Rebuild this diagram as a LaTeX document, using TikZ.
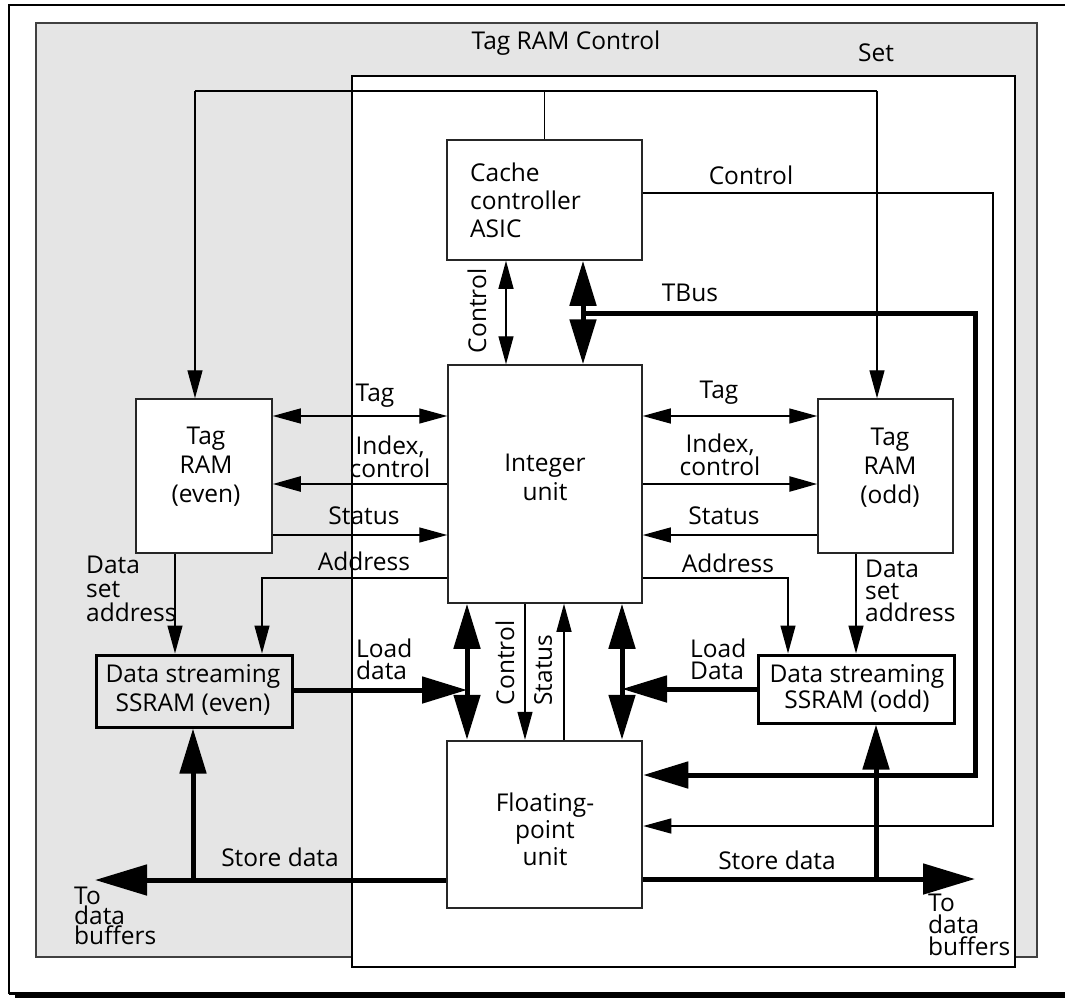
\documentclass[tikz,border=0pt]{standalone}
\usepackage{fontspec}
\setmainfont{Open Sans}
\usetikzlibrary{arrows.meta}
\tikzset{
  tA/.tip={Triangle[length=28pt,width=15pt]},
  tB/.tip={Triangle[length=45pt,width=26pt]},
  tC/.tip={Triangle[length=52pt,width=30pt]},
  lbl/.style={font=\fontsize{24.5}{27}\selectfont, inner sep=0pt, align=center},
  blk/.style={draw=black!85, line width=1.5pt, fill=white, inner sep=0pt},
  thinw/.style={line width=1.3pt},
  medw/.style={line width=2.6pt},
  thickw/.style={line width=5pt},
}
\begin{document}
\begin{tikzpicture}[x=1pt,y=-1pt]
\useasboundingbox (0,0) rectangle (1065,998);
% outer frame
\draw[line width=2.2pt] (9,994) -- (9,5) -- (1070,5);
\draw[line width=3pt] (9,993) -- (1070,993);
\draw[line width=4pt] (15,996) -- (1070,996);
% Tag RAM Control region
\draw[draw=black!75, line width=1.5pt, fill=black!10] (36,23) rectangle (1037,957);
% Set region
\draw[line width=1.2pt, fill=white] (352,76) rectangle (1015,967);
\node[lbl] (trc) at (566,43) {Tag RAM Control};
\node[lbl] (setl) at (876,53) {Set};

% top wire
\coordinate (wl) at (195,91);
\coordinate (wr) at (877,91);
\draw[thinw] (wl) -- (wr);

% blocks
\node[blk, minimum width=195pt, minimum height=120pt] (cache) at (544.5,200) {};
\node[lbl, anchor=west, align=left, font=\fontsize{24.5}{28}\selectfont] (cachet) at (470,200) {Cache\\controller\\ASIC};
\node[blk, minimum width=194pt, minimum height=238pt] (iu) at (545,484) {};
\node[lbl, font=\fontsize{24.5}{29}\selectfont] (iut) at (545,477) {Integer\\unit};
\node[blk, line width=2.5pt, minimum width=195pt, minimum height=167pt] (fpu) at (544.5,824.5) {};
\node[lbl, font=\fontsize{24.5}{27}\selectfont] (fput) at (545,829) {Floating-\\point\\unit};
\node[blk, minimum width=136pt, minimum height=154pt] (tre) at (204,476) {};
\node[lbl, font=\fontsize{24.5}{29}\selectfont] (tret) at (206,467) {Tag\\RAM\\(even)};
\node[blk, minimum width=135pt, minimum height=154pt] (tro) at (885.5,476) {};
\node[lbl, font=\fontsize{24.5}{29}\selectfont] (trot) at (890,468) {Tag\\RAM\\(odd)};
\node[draw, line width=3pt, inner sep=0pt, minimum width=196pt, minimum height=72pt] (sse) at (194,691) {};
\node[lbl, font=\fontsize{24.5}{29}\selectfont] (sset) at (193,690) {Data streaming\\SSRAM (even)};
\node[draw, line width=3pt, fill=white, inner sep=0pt, minimum width=196pt, minimum height=68pt] (sso) at (856,689) {};
\node[lbl, font=\fontsize{24.5}{26}\selectfont] (ssot) at (857,688) {Data streaming\\SSRAM (odd)};

% top wire connections
\draw[thinw] (cache.north) -- (cache.north |- wl);
\draw[thinw, -tA] (wl) -- (wl |- tre.north);
\draw[thinw, -tA] (wr) -- (wr |- tro.north);

% cache control to FPU
\draw[thinw, -tA] (cache.east |- 0,193) -- (993,193) -- (993,826) -- (fpu.east |- 0,826);
\node[lbl] (ctl1) at (751,175) {Control};

% cache <-> integer
\draw[thinw, tA-tA] (506,0 |- cache.south) -- (506,0 |- iu.north);
\node[lbl, rotate=90] (ctl2) at (477,311) {Control};
\draw[thickw, tB-tB] (583,0 |- cache.south) -- (583,0 |- iu.north);
\draw[thickw, -tB] (583,313) -- (975,313) -- (975,775) -- (fpu.east |- 0,775);
\node[lbl] (tbus) at (690,293) {TBus};

% left tag RAM connections
\draw[thinw, tA-tA] (tre.east |- 0,416) -- (iu.west |- 0,416);
\draw[medw, -tA] (iu.west |- 0,484) -- (tre.east |- 0,484);
\draw[thinw, -tA] (tre.east |- 0,535) -- (iu.west |- 0,535);
\draw[thinw, -tA] (iu.west |- 0,578) -- (262,578) -- (262,0 |- sse.north);
\draw[thinw, -tA] (175,0 |- tre.south) -- (175,0 |- sse.north);
\node[lbl] (ltag) at (375,396) {Tag};
\node[lbl, font=\fontsize{24.5}{23}\selectfont] (lidx) at (390,457) {Index,\\control};
\node[lbl] (lsta) at (364,516) {Status};
\node[lbl] (ladr) at (364,561) {Address};
\node[lbl, anchor=west, align=left, font=\fontsize{24.5}{24}\selectfont] (ldsa) at (86,589) {Data\\set\\address};

% right tag RAM connections
\draw[thinw, tA-tA] (iu.east |- 0,416) -- (tro.west |- 0,416);
\draw[medw, -tA] (iu.east |- 0,484) -- (tro.west |- 0,484);
\draw[thinw, -tA] (tro.west |- 0,535) -- (iu.east |- 0,535);
\draw[thinw, -tA] (iu.east |- 0,578) -- (788,578) -- (788,0 |- sso.north);
\draw[thinw, -tA] (856,0 |- tro.south) -- (856,0 |- sso.north);
\node[lbl] (rtag) at (719,393) {Tag};
\node[lbl, font=\fontsize{24.5}{23}\selectfont] (ridx) at (720,455) {Index,\\control};
\node[lbl] (rsta) at (724,516) {Status};
\node[lbl] (radr) at (728,563) {Address};
\node[lbl, anchor=west, align=left, font=\fontsize{24.5}{22}\selectfont] (rdsa) at (865,591) {Data\\set\\address};

% integer <-> FPU
\draw[thickw, tB-tB] (467,0 |- iu.south) -- (467,0 |- fpu.north);
\draw[thickw, tB-tB] (622,0 |- iu.south) -- (622,0 |- fpu.north);
\draw[thinw, -tA] (525,0 |- iu.south) -- (525,0 |- fpu.north);
\draw[thinw, -tA] (564,0 |- fpu.north) -- (564,0 |- iu.south);
\node[lbl, rotate=90] (ctl3) at (505,663) {Control};
\node[lbl, rotate=90] (sta3) at (543,670) {Status};

% load data
\coordinate (ldl) at (467,690);
\coordinate (ldr) at (622,689);
\draw[thickw, -tB] (sse.east |- ldl) -- (ldl);
\draw[thickw, -tB] (sso.west |- ldr) -- (ldr);
\node[lbl, anchor=west, align=left, font=\fontsize{24.5}{22}\selectfont] (lld) at (356,659) {Load\\data};
\node[lbl, anchor=west, align=left, font=\fontsize{24.5}{22}\selectfont] (rld) at (690,659) {Load\\Data};

% store data
\coordinate (sdl) at (95,880);
\coordinate (sdr) at (975,879);
\draw[thickw, -tC] (fpu.west |- sdl) -- (sdl);
\draw[thickw, -tB] (193,880) -- (193,0 |- sse.south);
\draw[thickw, -tC] (fpu.east |- sdr) -- (sdr);
\draw[thickw, -tB] (876,879) -- (876,0 |- sso.south);
\node[lbl] (lsd) at (280,857) {Store data};
\node[lbl] (rsd) at (777,860) {Store data};
\node[lbl, anchor=west, align=left, font=\fontsize{24.5}{20}\selectfont] (ltdb) at (74,916) {To\\data\\buffers};
\node[lbl, anchor=west, align=left, font=\fontsize{24.5}{22}\selectfont] (rtdb) at (928,925) {To\\data\\buffers};
\end{tikzpicture}
\end{document}
